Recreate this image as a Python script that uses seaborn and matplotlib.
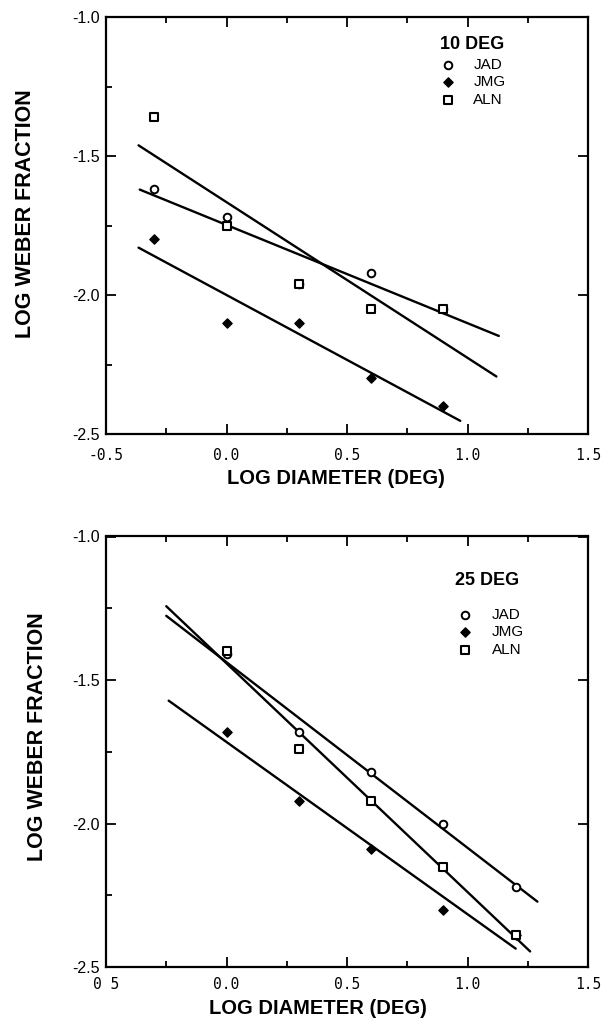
import numpy as np
import matplotlib
matplotlib.use("Agg")
import matplotlib.pyplot as plt
from matplotlib.ticker import MultipleLocator
import seaborn as sns

# ---- data -------------------------------------------------------------
subjects = ["JAD", "JMG", "ALN"]

# 10 deg eccentricity
log_diam_10 = [-0.3, 0.0, 0.3, 0.6, 0.9]
jad_10 = [-1.62, -1.72, -1.96, -1.92, -2.05]
jmg_10 = [-1.80, -2.10, -2.10, -2.30, -2.40]
aln_10 = [-1.36, -1.75, -1.96, -2.05, -2.05]
fit_span_10 = {"JAD": [-0.36, 1.13], "JMG": [-0.365, 0.97], "ALN": [-0.365, 1.12]}

# 25 deg eccentricity
log_diam_25 = [0.0, 0.3, 0.6, 0.9, 1.2]
jad_25 = [-1.41, -1.68, -1.82, -2.00, -2.22]
jmg_25 = [-1.68, -1.92, -2.09, -2.30, -2.39]
aln_25 = [-1.40, -1.74, -1.92, -2.15, -2.39]
fit_span_25 = {"JAD": [-0.25, 1.29], "JMG": [-0.24, 1.20], "ALN": [-0.25, 1.26]}

x_ticks = [-0.5, 0.0, 0.5, 1.0, 1.5]
x_ticklabels_top = ["-0.5", "0.0", "0.5", "1.0", "1.5"]
x_ticklabels_bot = ["0 5", "0.0", "0.5", "1.0", "1.5"]
y_ticks = [-2.5, -2.0, -1.5, -1.0]
y_ticklabels = ["-2.5", "-2.0", "-1.5", "-1.0"]

# ---- style ------------------------------------------------------------
sns.set_theme(style="ticks", rc={
    "text.color": "black", "axes.labelcolor": "black",
    "xtick.color": "black", "ytick.color": "black",
    "axes.edgecolor": "black",
})
plt.rcParams["font.family"] = ["Liberation Sans", "DejaVu Sans"]

marker_style = {
    "JAD": dict(marker="o", s=30, color="white", edgecolor="black", linewidth=1.4, zorder=3),
    "JMG": dict(marker="D", s=22, color="black", edgecolor="black", linewidth=1.0, zorder=4),
    "ALN": dict(marker="s", s=30, color="white", edgecolor="black", linewidth=1.5, zorder=5),
}

fig = plt.figure(figsize=(6.03, 10.22), dpi=100)
W, H = 603.0, 1022.0
ax_top = fig.add_axes([106 / W, 1 - 434 / H, 482 / W, 417 / H])
ax_bot = fig.add_axes([106 / W, 1 - 967 / H, 482 / W, 430.5 / H])


def draw_panel(ax, x, series, spans, title, title_pos, legend_pos,
               handletextpad, xticklabels, xpad, xlabel_pos, ylabel_pos):
    x = np.asarray(x)
    # least-squares fit line for each observer
    for name in subjects:
        y = np.asarray(series[name])
        slope, icpt = np.polyfit(x, y, 1)
        xs = np.asarray(spans[name])
        sns.lineplot(x=xs, y=icpt + slope * xs, ax=ax, color="black",
                     linewidth=1.7, zorder=2)
    # observations
    for name in subjects:
        sns.scatterplot(x=x, y=series[name], ax=ax, label=name,
                        legend=False, **marker_style[name])

    ax.set_xlim(-0.5, 1.5)
    ax.set_ylim(-2.5, -1.0)
    ax.set_xticks(x_ticks)
    ax.set_xticklabels(xticklabels, fontfamily="DejaVu Sans Mono", fontsize=10.5)
    ax.set_yticks(y_ticks)
    ax.set_yticklabels(y_ticklabels, fontsize=11.5)
    ax.xaxis.set_minor_locator(MultipleLocator(0.25))
    ax.yaxis.set_minor_locator(MultipleLocator(0.25))
    ax.tick_params(which="major", direction="in", length=7, width=1.3,
                   top=True, right=True, bottom=True, left=True)
    ax.tick_params(which="minor", direction="in", length=4, width=1.3,
                   top=True, right=False, bottom=True, left=True)
    ax.tick_params(axis="x", which="major", pad=xpad)
    ax.tick_params(axis="y", which="major", pad=4.3)
    for sp in ax.spines.values():
        sp.set_visible(True)
        sp.set_linewidth(1.6)
        sp.set_color("black")

    ax.set_xlabel("LOG DIAMETER (DEG)", fontsize=14.5, fontweight="bold")
    ax.xaxis.set_label_coords(*xlabel_pos)
    ax.set_ylabel("LOG WEBER FRACTION", fontsize=15.5, fontweight="bold")
    ax.yaxis.set_label_coords(*ylabel_pos)

    ax.text(title_pos[0], title_pos[1], title, transform=ax.transAxes,
            fontsize=13, fontweight="bold", ha="left", va="center")
    handles, labels = ax.get_legend_handles_labels()
    ax.legend(handles, labels, loc="upper left", bbox_to_anchor=legend_pos,
              frameon=False, borderpad=0, borderaxespad=0, handlelength=1.0,
              handletextpad=handletextpad, labelspacing=0.22,
              prop={"size": 11}, scatterpoints=1)


draw_panel(ax_top, log_diam_10,
           {"JAD": jad_10, "JMG": jmg_10, "ALN": aln_10}, fit_span_10,
           "10 DEG", (0.693, 0.933), (0.694, 0.902), 1.15,
           x_ticklabels_top, 10.0, (0.477, -0.084), (-0.145, 0.528))

draw_panel(ax_bot, log_diam_25,
           {"JAD": jad_25, "JMG": jmg_25, "ALN": aln_25}, fit_span_25,
           "25 DEG", (0.724, 0.897), (0.729, 0.834), 1.25,
           x_ticklabels_bot, 7.0, (0.4388, -0.0743), (-0.121, 0.535))

fig.savefig("out.png", dpi=100)
